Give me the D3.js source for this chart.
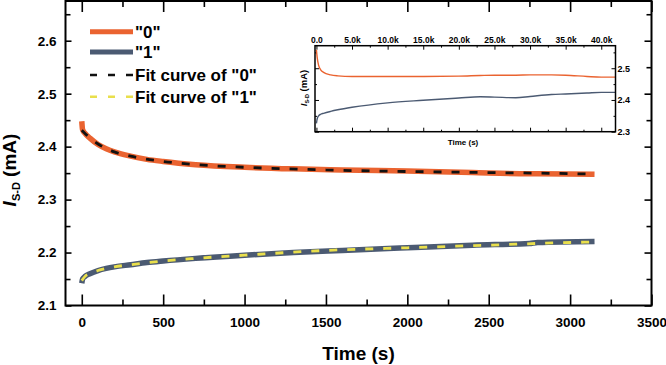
<!DOCTYPE html>
<html>
<head>
<meta charset="utf-8">
<script src="https://cdn.jsdelivr.net/npm/d3@7"></script>
<style>
  html, body { margin: 0; padding: 0; background: #fff; }
  svg { display: block; font-family: "Liberation Sans", Arial, sans-serif; font-weight: bold; }
</style>
</head>
<body>
<div id="chart"></div>
<script>
// main plot: time (s) and I_S-D (mA)
const timeMain = [0, 5, 20, 50, 100, 150, 200, 300, 400, 500, 700, 1000, 1300, 1600, 2000, 2400, 2750, 2800, 3150];
const state0 = [2.448, 2.432, 2.425, 2.416, 2.404, 2.396, 2.390, 2.382, 2.376, 2.372, 2.366, 2.361, 2.358, 2.356, 2.354, 2.351, 2.349, 2.349, 2.348];
const state1 = [2.142, 2.150, 2.155, 2.160, 2.166, 2.170, 2.173, 2.177, 2.181, 2.184, 2.189, 2.195, 2.200, 2.204, 2.209, 2.214, 2.217, 2.219, 2.221];

const timeFit = [0, 20, 50, 100, 200, 300, 500, 700, 1000, 1500, 2000, 2500, 3000, 3150];
const fit0 = [2.431, 2.425, 2.416, 2.405, 2.390, 2.382, 2.372, 2.366, 2.361, 2.356, 2.353, 2.351, 2.349, 2.348];
const fit1 = [2.147, 2.155, 2.160, 2.166, 2.173, 2.177, 2.184, 2.189, 2.195, 2.204, 2.209, 2.214, 2.219, 2.220];

// inset: long run
const timeInset = [0, 100, 300, 600, 1000, 2000, 3000, 5000, 10000, 15000, 20000, 23000, 25000, 28000, 30000, 33000, 35000, 38000, 40000, 42000];
const inset0 = [2.558, 2.535, 2.510, 2.495, 2.487, 2.479, 2.476, 2.474, 2.474, 2.474, 2.475, 2.477, 2.478, 2.478, 2.479, 2.479, 2.478, 2.474, 2.472, 2.472];
const inset1 = [2.326, 2.340, 2.350, 2.355, 2.358, 2.364, 2.369, 2.377, 2.391, 2.399, 2.406, 2.410, 2.409, 2.407, 2.411, 2.417, 2.419, 2.422, 2.424, 2.424];

const xTicks = [0, 500, 1000, 1500, 2000, 2500, 3000, 3500];
const yTicks = [2.1, 2.2, 2.3, 2.4, 2.5, 2.6];
const insetXTicks = [0, 5000, 10000, 15000, 20000, 25000, 30000, 35000, 40000];
const insetYTicks = [2.3, 2.4, 2.5];

const legendLabels = ['"0"', '"1"', 'Fit curve of "0"', 'Fit curve of "1"'];

const orange = "#ea6330";
const slate = "#4b5a72";
const yellow = "#e9df4c";

const W = 666, H = 365;
const svg = d3.select("#chart").append("svg")
  .attr("width", W).attr("height", H)
  .attr("viewBox", [0, 0, W, H]);

const x = d3.scaleLinear().domain([-100, 3500]).range([65.5, 651.5]);
const y = d3.scaleLinear().domain([2.1, 2.675]).range([305.5, 1]);

function minor(arr, step) {
  let out = [];
  for (let i = 0; i < arr.length - 1; i++) out.push(+(arr[i] + step).toFixed(4));
  return out;
}

function styleAxis(g, size) {
  g.select(".domain").remove();
  g.selectAll("line").attr("stroke", "#000").attr("stroke-width", 1.6);
  g.selectAll("text").attr("fill", "#000").style("font-size", size + "px").style("font-weight", "bold");
}

// bottom axis
svg.append("g").attr("transform", `translate(0,${y.range()[0]})`)
  .call(d3.axisBottom(x).tickValues(xTicks).tickSize(-11).tickPadding(12).tickFormat(d3.format("d")))
  .call(g => styleAxis(g, 13.5));
svg.append("g").attr("transform", `translate(0,${y.range()[0]})`)
  .call(d3.axisBottom(x).tickValues(minor(xTicks, 250)).tickSize(-6).tickFormat(""))
  .call(g => styleAxis(g, 13.5));
// top axis
svg.append("g").attr("transform", `translate(0,${y.range()[1]})`)
  .call(d3.axisTop(x).tickValues(xTicks).tickSize(-11).tickFormat(""))
  .call(g => styleAxis(g, 13.5));
svg.append("g").attr("transform", `translate(0,${y.range()[1]})`)
  .call(d3.axisTop(x).tickValues(minor(xTicks, 250)).tickSize(-6).tickFormat(""))
  .call(g => styleAxis(g, 13.5));
// left axis
svg.append("g").attr("transform", `translate(${x.range()[0]},0)`)
  .call(d3.axisLeft(y).tickValues(yTicks).tickSize(-6).tickPadding(9).tickFormat(d3.format(".1f")))
  .call(g => styleAxis(g, 13.5));
svg.append("g").attr("transform", `translate(${x.range()[0]},0)`)
  .call(d3.axisLeft(y).tickValues(minor(yTicks, 0.05).concat([2.65])).tickSize(-5).tickFormat(""))
  .call(g => styleAxis(g, 13.5));
// right axis
svg.append("g").attr("transform", `translate(${x.range()[1]},0)`)
  .call(d3.axisRight(y).tickValues(yTicks).tickSize(-7).tickFormat(""))
  .call(g => styleAxis(g, 13.5));
svg.append("g").attr("transform", `translate(${x.range()[1]},0)`)
  .call(d3.axisRight(y).tickValues(minor(yTicks, 0.05).concat([2.65])).tickSize(-5).tickFormat(""))
  .call(g => styleAxis(g, 13.5));

svg.append("rect")
  .attr("x", x.range()[0]).attr("y", y.range()[1])
  .attr("width", x.range()[1] - x.range()[0]).attr("height", y.range()[0] - y.range()[1])
  .attr("fill", "none").attr("stroke", "#000").attr("stroke-width", 2);

// axis titles
svg.append("text").attr("x", (x.range()[0] + x.range()[1]) / 2).attr("y", 360)
  .attr("text-anchor", "middle").style("font-size", "19px").text("Time (s)");

const yl = svg.append("text").attr("transform", "translate(16,170) rotate(-90)")
  .attr("text-anchor", "middle").style("font-size", "19px");
yl.append("tspan").style("font-style", "italic").text("I");
yl.append("tspan").attr("dy", 4).style("font-size", "11px").text("S-D");
yl.append("tspan").attr("dy", -4).text(" (mA)");

// curves
const line = (xs, ys, sx, sy) => d3.line()
  .x((d, i) => sx(xs[i]))
  .y(d => sy(d))
  .curve(d3.curveMonotoneX)(ys);

svg.append("path").attr("d", line(timeMain, state0, x, y))
  .attr("fill", "none").attr("stroke", orange).attr("stroke-width", 5.5);
svg.append("path").attr("d", line(timeMain, state1, x, y))
  .attr("fill", "none").attr("stroke", slate).attr("stroke-width", 5.5);
svg.append("path").attr("d", line(timeFit, fit0, x, y))
  .attr("fill", "none").attr("stroke", "#111").attr("stroke-width", 2.8).attr("stroke-dasharray", "8,10");
svg.append("path").attr("d", line(timeFit, fit1, x, y))
  .attr("fill", "none").attr("stroke", yellow).attr("stroke-width", 2.8).attr("stroke-dasharray", "8,10");

// legend
const legStyles = [
  { c: orange, w: 5, dash: null },
  { c: slate, w: 5, dash: null },
  { c: "#111", w: 2.5, dash: "7,11" },
  { c: yellow, w: 2.5, dash: "7,11" }
];
const legY = [31.7, 52, 75, 96.7];
legendLabels.forEach((lab, i) => {
  const s = legStyles[i];
  svg.append("line").attr("x1", 90).attr("x2", 133).attr("y1", legY[i]).attr("y2", legY[i])
    .attr("stroke", s.c).attr("stroke-width", s.w).attr("stroke-dasharray", s.dash);
  svg.append("text").attr("x", 135).attr("y", legY[i] + 5.8)
    .style("font-size", "17px").text(lab);
});

// inset
const ix = d3.scaleLinear().domain([-200, 42000]).range([315, 615.5]);
const iy = d3.scaleLinear().domain([2.3, 2.571]).range([131.7, 45.7]);
const inset = svg.append("g");
inset.append("rect")
  .attr("x", ix.range()[0]).attr("y", iy.range()[1])
  .attr("width", ix.range()[1] - ix.range()[0]).attr("height", iy.range()[0] - iy.range()[1])
  .attr("fill", "#fff");

inset.append("g").attr("transform", `translate(0,${iy.range()[1]})`)
  .call(d3.axisTop(ix).tickValues(insetXTicks).tickSize(-4).tickPadding(3)
    .tickFormat(d => d === 0 ? "0.0" : (d / 1000).toFixed(1) + "k"))
  .call(g => styleAxis(g, 8.5));
inset.append("g").attr("transform", `translate(0,${iy.range()[1]})`)
  .call(d3.axisTop(ix).tickValues(minor(insetXTicks, 2500)).tickSize(-2).tickFormat(""))
  .call(g => styleAxis(g, 8.5));
inset.append("g").attr("transform", `translate(0,${iy.range()[0]})`)
  .call(d3.axisBottom(ix).tickValues(insetXTicks).tickSize(-4).tickFormat(""))
  .call(g => styleAxis(g, 8.5));
inset.append("g").attr("transform", `translate(0,${iy.range()[0]})`)
  .call(d3.axisBottom(ix).tickValues(minor(insetXTicks, 2500)).tickSize(-2).tickFormat(""))
  .call(g => styleAxis(g, 8.5));
inset.append("g").attr("transform", `translate(${ix.range()[1]},0)`)
  .call(d3.axisRight(iy).tickValues(insetYTicks).tickSize(-4).tickPadding(2).tickFormat(d3.format(".1f")))
  .call(g => styleAxis(g, 9));
inset.append("g").attr("transform", `translate(${ix.range()[1]},0)`)
  .call(d3.axisRight(iy).tickValues(minor(insetYTicks, 0.05).concat([2.55])).tickSize(-2).tickFormat(""))
  .call(g => styleAxis(g, 9));
inset.append("g").attr("transform", `translate(${ix.range()[0]},0)`)
  .call(d3.axisLeft(iy).tickValues(insetYTicks).tickSize(-4).tickFormat(""))
  .call(g => styleAxis(g, 9));
inset.append("g").attr("transform", `translate(${ix.range()[0]},0)`)
  .call(d3.axisLeft(iy).tickValues(minor(insetYTicks, 0.05).concat([2.55])).tickSize(-2).tickFormat(""))
  .call(g => styleAxis(g, 9));
inset.selectAll("line").attr("stroke-width", 1);

inset.append("path").attr("d", line(timeInset, inset0, ix, iy))
  .attr("fill", "none").attr("stroke", orange).attr("stroke-width", 1.4);
inset.append("path").attr("d", line(timeInset, inset1, ix, iy))
  .attr("fill", "none").attr("stroke", slate).attr("stroke-width", 1.4);

inset.append("rect")
  .attr("x", ix.range()[0]).attr("y", iy.range()[1])
  .attr("width", ix.range()[1] - ix.range()[0]).attr("height", iy.range()[0] - iy.range()[1])
  .attr("fill", "none").attr("stroke", "#000").attr("stroke-width", 1.5);

inset.append("text").attr("x", 463).attr("y", 144.5)
  .attr("text-anchor", "middle").style("font-size", "8px").text("Time (s)");
const iyl = inset.append("text").attr("transform", "translate(306.5,88) rotate(-90)")
  .attr("text-anchor", "middle").style("font-size", "9.5px");
iyl.append("tspan").style("font-style", "italic").text("I");
iyl.append("tspan").attr("dy", 2).style("font-size", "5.5px").text("S-D");
iyl.append("tspan").attr("dy", -2).text(" (mA)");
</script>
</body>
</html>
